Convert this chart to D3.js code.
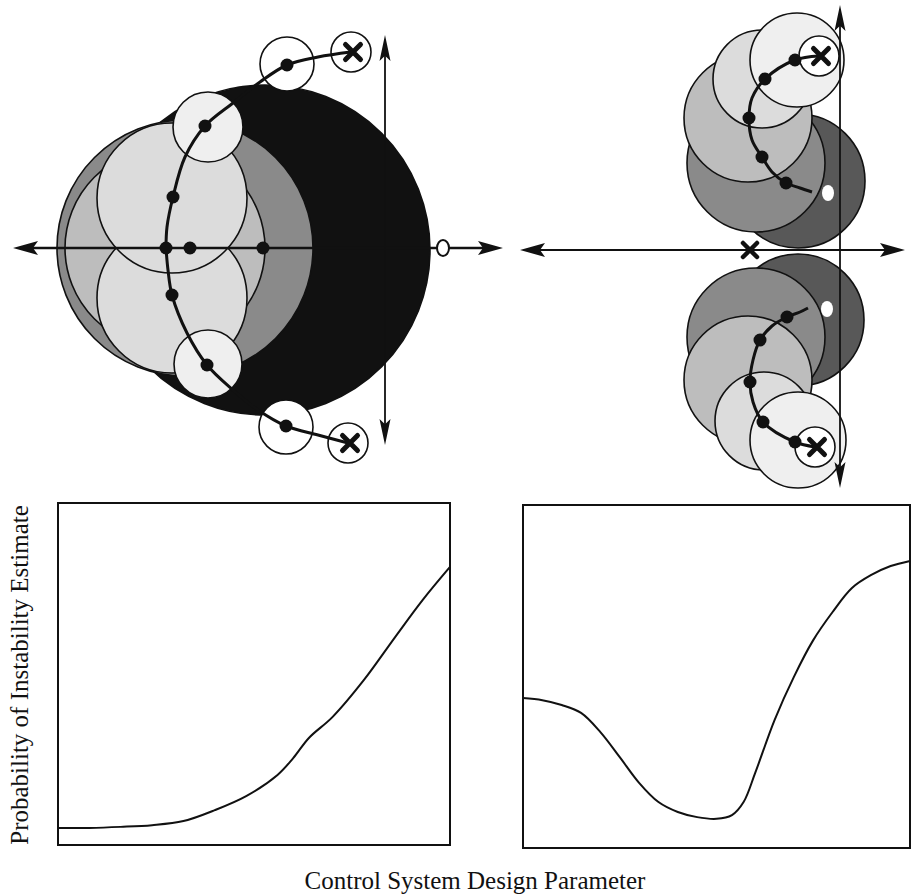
<!DOCTYPE html>
<html>
<head>
<meta charset="utf-8">
<script src="https://cdn.jsdelivr.net/npm/d3@7"></script>
<style>
body { margin: 0; background: #fff; }
svg { display: block; }
</style>
</head>
<body>
<div id="chart"></div>
<script>
// ---------- data ----------
// s-plane values (real, imag) read off the two root-locus sketches
// circles: [re, im, radius, shade level]
var leftCircles = [
    [-1.20, -0.02, 1.65, 6],
    [-2.00, 0.00, 1.28, 4],
    [-2.20, 0.00, 1.00, 3],
    [-2.13, -0.50, 0.75, 2],
    [-2.13, 0.50, 0.75, 2],
    [-1.77, 1.21, 0.35, 1],
    [-1.77, -1.16, 0.34, 1],
    [-0.98, 1.84, 0.27, 0],
    [-0.99, -1.79, 0.27, 0],
    [-0.34, 1.96, 0.20, 0],
    [-0.37, -1.95, 0.20, 0]
];
var leftLocusUpper = [[-0.34, 1.96], [-0.67, 1.91], [-0.98, 1.83], [-1.25, 1.66], [-1.52, 1.45],
    [-1.80, 1.22], [-2.00, 0.91], [-2.12, 0.51], [-2.18, 0.21], [-2.19, 0.00]];
var leftLocusLower = [[-2.19, 0.00], [-2.17, -0.22], [-2.13, -0.47], [-1.98, -0.85], [-1.78, -1.17],
    [-1.52, -1.42], [-1.27, -1.62], [-0.99, -1.78], [-0.67, -1.87], [-0.37, -1.95]];
var leftDots = [[-0.98, 1.83], [-1.80, 1.22], [-2.12, 0.51], [-2.19, 0.00], [-1.95, 0.00],
    [-1.22, 0.00], [-2.13, -0.47], [-1.78, -1.17], [-0.99, -1.78]];
var leftPoles = [[-0.34, 1.96], [-0.37, -1.95]];
var leftZeros = [[0.58, 0.00]];

var rightCircles = [
    [-0.42, 0.69, 0.67, 5],
    [-0.42, -0.70, 0.66, 5],
    [-0.84, 0.87, 0.69, 4],
    [-0.84, -0.87, 0.69, 4],
    [-0.92, 1.32, 0.64, 3],
    [-0.92, -1.30, 0.64, 3],
    [-0.78, 1.71, 0.49, 2],
    [-0.76, -1.71, 0.49, 2],
    [-0.43, 1.90, 0.47, 1],
    [-0.42, -1.90, 0.48, 1],
    [-0.21, 1.94, 0.20, 0],
    [-0.25, -1.97, 0.20, 0]
];
var rightLocusUpper = [[-0.21, 1.94], [-0.45, 1.90], [-0.75, 1.71], [-0.88, 1.52], [-0.91, 1.32],
    [-0.88, 1.10], [-0.78, 0.93], [-0.68, 0.78], [-0.54, 0.67], [-0.40, 0.62], [-0.28, 0.58]];
var rightLocusLower = [[-0.25, -1.97], [-0.45, -1.92], [-0.77, -1.72], [-0.87, -1.52], [-0.90, -1.32],
    [-0.87, -1.10], [-0.80, -0.90], [-0.68, -0.76], [-0.53, -0.67], [-0.40, -0.62], [-0.32, -0.58]];
var rightDots = [[-0.45, 1.90], [-0.75, 1.71], [-0.91, 1.32], [-0.78, 0.93], [-0.54, 0.67],
    [-0.45, -1.92], [-0.77, -1.72], [-0.90, -1.32], [-0.80, -0.90], [-0.53, -0.67]];
var rightPoles = [[-0.21, 1.94], [-0.25, -1.97]];
var rightAxisPoles = [[-0.90, 0.00]];
var rightZeros = [[-0.12, 0.57], [-0.13, -0.59]];

// probability of instability vs design parameter (both normalised 0..1)
var leftParam = [0, 0.08, 0.16, 0.24, 0.32, 0.40, 0.48, 0.56, 0.60, 0.64, 0.70, 0.78, 0.86, 0.93, 1.0];
var leftProb = [0.050, 0.050, 0.053, 0.058, 0.070, 0.102, 0.143, 0.205, 0.254, 0.313, 0.374, 0.482, 0.608, 0.716, 0.813];
var rightParam = [0, 0.05, 0.10, 0.15, 0.20, 0.25, 0.30, 0.35, 0.40, 0.45, 0.50, 0.54, 0.57, 0.60, 0.65, 0.70, 0.75, 0.80, 0.85, 0.90, 0.95, 1.0];
var rightProb = [0.437, 0.431, 0.417, 0.394, 0.338, 0.265, 0.190, 0.134, 0.105, 0.090, 0.085, 0.096, 0.134, 0.219, 0.373, 0.499, 0.606, 0.688, 0.758, 0.796, 0.822, 0.837];

var xTitle = 'Control System Design Parameter';
var yTitle = 'Probability of Instability Estimate';

// ---------- layout ----------
var width = 912, height = 894;

var svg = d3.select('#chart')
    .append('svg')
    .attr('width', width)
    .attr('height', height);

var shade = d3.scaleOrdinal()
    .domain([0, 1, 2, 3, 4, 5, 6])
    .range(['#ffffff', '#efefef', '#dcdcdc', '#bdbdbd', '#8a8a8a', '#585858', '#111111']);

// s-plane scales, 100px per unit, domain = axis extent
var xL = d3.scaleLinear().domain([-3.72, 1.18]).range([13, 503]);
var yL = d3.scaleLinear().domain([-1.97, 2.13]).range([445, 35]);
var xR = d3.scaleLinear().domain([-3.20, 0.65]).range([520, 905]);
var yR = d3.scaleLinear().domain([-2.38, 2.45]).range([488, 5]);

function arrowHead(g, x, y, dir, len, hw) {
    var p;
    if (dir === 'left') p = [[x, y], [x + len, y - hw], [x + len * 0.8, y], [x + len, y + hw]];
    if (dir === 'right') p = [[x, y], [x - len, y - hw], [x - len * 0.8, y], [x - len, y + hw]];
    if (dir === 'up') p = [[x, y], [x - hw, y + len], [x, y + len * 0.8], [x + hw, y + len]];
    if (dir === 'down') p = [[x, y], [x - hw, y - len], [x, y - len * 0.8], [x + hw, y - len]];
    g.append('path')
        .attr('d', 'M' + p.map(function (d) { return d.join(','); }).join('L') + 'Z')
        .attr('fill', '#111');
}

function crossMark(g, x, y, s, w) {
    g.append('path')
        .attr('d', 'M' + (x - s) + ',' + (y - s) + 'L' + (x + s) + ',' + (y + s) +
            'M' + (x - s) + ',' + (y + s) + 'L' + (x + s) + ',' + (y - s))
        .attr('stroke', '#111')
        .attr('stroke-width', w)
        .attr('stroke-linecap', 'round');
}

function drawLocus(xs, ys, circles, branches, dots, poles, zeros, opt) {
    var g = svg.append('g');
    var unit = xs(1) - xs(0);

    g.selectAll('.blob')
        .data(circles)
        .enter()
        .append('circle')
        .attr('class', 'blob')
        .attr('cx', function (d) { return xs(d[0]); })
        .attr('cy', function (d) { return ys(d[1]); })
        .attr('r', function (d) { return d[2] * unit; })
        .attr('fill', function (d) { return shade(d[3]); })
        .attr('stroke', '#111')
        .attr('stroke-width', 1.6);

    // axes
    var x0 = xs.range()[0], x1 = xs.range()[1];
    var yTop = ys.range()[1], yBot = ys.range()[0];
    g.append('line')
        .attr('x1', x0 + 10).attr('x2', x1 - 10)
        .attr('y1', ys(0)).attr('y2', ys(0))
        .attr('stroke', '#111').attr('stroke-width', opt.axisW);
    g.append('line')
        .attr('x1', xs(0)).attr('x2', xs(0))
        .attr('y1', yTop + 10).attr('y2', yBot - 10)
        .attr('stroke', '#111').attr('stroke-width', 1.8);
    arrowHead(g, x0, ys(0), 'left', 25, 7);
    arrowHead(g, x1, ys(0), 'right', 25, 7);
    arrowHead(g, xs(0), yTop, 'up', 26, 5.5);
    arrowHead(g, xs(0), yBot, 'down', 26, 5.5);

    var line = d3.line()
        .x(function (d) { return xs(d[0]); })
        .y(function (d) { return ys(d[1]); })
        .curve(d3.curveCatmullRom);

    branches.forEach(function (b) {
        g.append('path')
            .attr('d', line(b))
            .attr('fill', 'none')
            .attr('stroke', '#111')
            .attr('stroke-width', 3);
    });

    g.selectAll('.dot')
        .data(dots)
        .enter()
        .append('circle')
        .attr('class', 'dot')
        .attr('cx', function (d) { return xs(d[0]); })
        .attr('cy', function (d) { return ys(d[1]); })
        .attr('r', 6.5)
        .attr('fill', '#111');

    poles.forEach(function (d) {
        crossMark(g, xs(d[0]) + 2, ys(d[1]), 7.5, 5);
    });

    g.selectAll('.zero')
        .data(zeros)
        .enter()
        .append('ellipse')
        .attr('class', 'zero')
        .attr('cx', function (d) { return xs(d[0]); })
        .attr('cy', function (d) { return ys(d[1]); })
        .attr('rx', 6)
        .attr('ry', 8)
        .attr('fill', '#fff')
        .attr('stroke', opt.zeroStroke)
        .attr('stroke-width', 2);
    return g;
}

drawLocus(xL, yL, leftCircles, [leftLocusUpper, leftLocusLower], leftDots, leftPoles, leftZeros,
    {axisW: 2.5, zeroStroke: '#111'});
var gR = drawLocus(xR, yR, rightCircles, [rightLocusUpper, rightLocusLower], rightDots, rightPoles, rightZeros,
    {axisW: 2.2, zeroStroke: 'none'});
rightAxisPoles.forEach(function (d) {
    crossMark(gR, xR(d[0]), yR(d[1]), 7, 4.5);
});

// ---------- probability panels ----------
function drawProb(left, right, top, bottom, xs, ys) {
    var xScale = d3.scaleLinear().domain([0, 1]).range([left, right]);
    var yScale = d3.scaleLinear().domain([0, 1]).range([bottom, top]);
    var g = svg.append('g');
    g.append('rect')
        .attr('x', left).attr('y', top)
        .attr('width', right - left).attr('height', bottom - top)
        .attr('fill', 'none')
        .attr('stroke', '#111')
        .attr('stroke-width', 2);
    var pts = xs.map(function (d, i) { return [d, ys[i]]; });
    var line = d3.line()
        .x(function (d) { return xScale(d[0]); })
        .y(function (d) { return yScale(d[1]); })
        .curve(d3.curveCatmullRom);
    g.append('path')
        .attr('d', line(pts))
        .attr('fill', 'none')
        .attr('stroke', '#111')
        .attr('stroke-width', 2);
}

drawProb(58, 450, 503, 845, leftParam, leftProb);
drawProb(523, 910, 505, 848, rightParam, rightProb);

svg.append('text')
    .attr('x', 475)
    .attr('y', 889)
    .attr('text-anchor', 'middle')
    .style('font-family', '"Liberation Serif", "DejaVu Serif", serif')
    .style('font-size', '25px')
    .attr('fill', '#111')
    .text(xTitle);

svg.append('text')
    .attr('transform', 'translate(28,675) rotate(-90)')
    .attr('text-anchor', 'middle')
    .style('font-family', '"Liberation Serif", "DejaVu Serif", serif')
    .style('font-size', '25px')
    .attr('fill', '#111')
    .text(yTitle);
</script>
</body>
</html>
